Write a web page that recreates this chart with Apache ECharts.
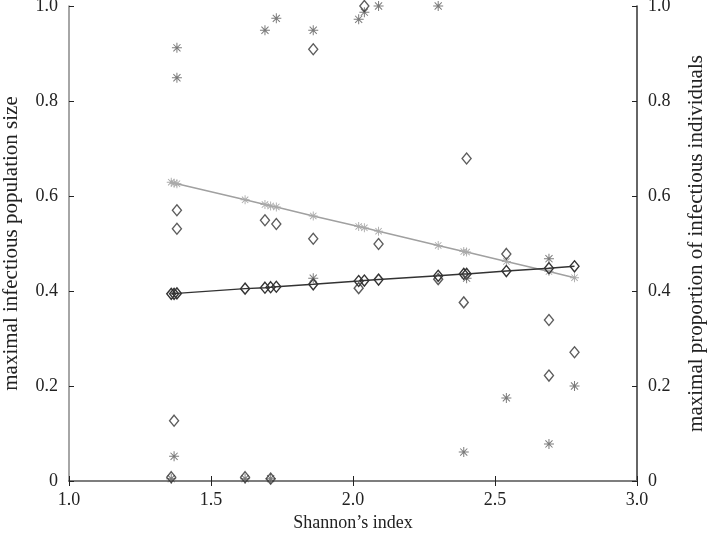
<!DOCTYPE html>
<html>
<head>
<meta charset="utf-8">
<script src="https://cdn.jsdelivr.net/npm/echarts@6/dist/echarts.min.js"></script>
<style>
  html, body { margin: 0; padding: 0; background: #fff; }
  #main { width: 708px; height: 539px; }
</style>
</head>
<body>
<div id="main"></div>
<script>
// raw data, one entry per community
const shannon = [1.36, 1.37, 1.38, 1.38, 1.62, 1.69, 1.71, 1.73, 1.86, 1.86, 2.02, 2.04, 2.09, 2.30, 2.39, 2.40, 2.54, 2.69, 2.69, 2.78]
const popSize = [0.008, 0.127, 0.570, 0.531, 0.008, 0.549, 0.005, 0.541, 0.510, 0.909, 0.406, 1.0, 0.499, 0.425, 0.376, 0.679, 0.478, 0.339, 0.222, 0.271]
const propInf = [0.005, 0.052, 0.912, 0.849, 0.005, 0.949, 0.005, 0.974, 0.949, 0.427, 0.972, 0.987, 1.0, 1.0, 0.061, 0.427, 0.175, 0.468, 0.078, 0.200]

// fitted values
const fitX = [1.36, 1.37, 1.38, 1.62, 1.69, 1.71, 1.73, 1.86, 2.02, 2.04, 2.09, 2.30, 2.39, 2.40, 2.54, 2.69, 2.78]
const fitPop = [0.394, 0.394, 0.395, 0.405, 0.407, 0.408, 0.409, 0.414, 0.421, 0.422, 0.424, 0.432, 0.436, 0.436, 0.442, 0.448, 0.452]
const fitProp = [0.629, 0.627, 0.626, 0.592, 0.582, 0.579, 0.577, 0.558, 0.536, 0.533, 0.526, 0.496, 0.483, 0.482, 0.462, 0.441, 0.428]

const xTicks = ['1.0', '1.5', '2.0', '2.5', '3.0']

// eight-spoke asterisk marker
const star = 'path://M-1,-10 L1,-10 L1,10 L-1,10 Z M-10,-1 L10,-1 L10,1 L-10,1 Z ' +
  'M-7.8,-6.4 L-6.4,-7.8 L7.8,6.4 L6.4,7.8 Z M6.4,-7.8 L7.8,-6.4 L-6.4,7.8 L-7.8,6.4 Z'

const font = 'Liberation Serif'
const zip = (xs, ys) => xs.map((x, i) => [x, ys[i]])

const chart = echarts.init(document.getElementById('main'))

const yLabel = v => (v === 0 ? '0' : v.toFixed(1))
const labelStyle = { fontFamily: font, fontSize: 18, color: '#222' }

const option = {
  animation: false,
  grid: { left: 69, right: 71, top: 6, bottom: 58, containLabel: false, outerBoundsMode: 'none' },
  xAxis: [
    {
      type: 'value', min: 1, max: 3, interval: 0.5,
      name: 'Shannon\u2019s index', nameLocation: 'middle', nameGap: 33,
      nameTextStyle: labelStyle,
      axisLine: { lineStyle: { color: '#333', width: 1.5 } },
      axisTick: { inside: true, length: 5, lineStyle: { color: '#222' } },
      axisLabel: Object.assign({ margin: 10, formatter: v => xTicks[Math.round((v - 1) * 2)] }, labelStyle),
      splitLine: { show: false }
    },
    {
      type: 'value', min: 1, max: 3, interval: 0.5, position: 'top',
      axisLine: { show: true, lineStyle: { color: '#888', width: 1.5 } },
      axisTick: { inside: true, length: 5, lineStyle: { color: '#222' } },
      axisLabel: { show: false },
      splitLine: { show: false }
    }
  ],
  yAxis: [
    {
      type: 'value', min: 0, max: 1, interval: 0.2,
      name: 'maximal infectious population size', nameLocation: 'middle', nameGap: 47,
      nameTextStyle: { fontFamily: font, fontSize: 21, color: '#222' },
      axisLine: { show: true, lineStyle: { color: '#888', width: 1.5 } },
      axisTick: { show: true, inside: true, length: 5, lineStyle: { color: '#222' } },
      axisLabel: Object.assign({ margin: 11, formatter: yLabel }, labelStyle),
      splitLine: { show: false }
    },
    {
      type: 'value', min: 0, max: 1, interval: 0.2, position: 'right',
      name: 'maximal proportion of infectious individuals', nameLocation: 'middle', nameGap: 49,
      nameRotate: 90,
      nameTextStyle: { fontFamily: font, fontSize: 21, color: '#222' },
      axisLine: { show: true, lineStyle: { color: '#333', width: 1.5 } },
      axisTick: { show: true, inside: true, length: 5, lineStyle: { color: '#222' } },
      axisLabel: Object.assign({ margin: 11, formatter: yLabel }, labelStyle),
      splitLine: { show: false }
    }
  ],
  series: [
    {
      name: 'fit proportion', type: 'line', yAxisIndex: 1,
      data: zip(fitX, fitProp),
      symbol: star, symbolSize: 9,
      itemStyle: { color: '#aaa' },
      lineStyle: { color: '#a0a0a0', width: 1.5 },
      z: 2
    },
    {
      name: 'fit size', type: 'line',
      data: zip(fitX, fitPop),
      symbol: 'diamond', symbolSize: [9, 11],
      itemStyle: { color: 'rgba(0,0,0,0)', borderColor: '#333', borderWidth: 1.4 },
      lineStyle: { color: '#333', width: 1.5 },
      z: 3
    },
    {
      name: 'proportion', type: 'scatter', yAxisIndex: 1, clip: false,
      data: zip(shannon, propInf),
      symbol: star, symbolSize: 10,
      itemStyle: { color: '#5a5a5a' },
      z: 4
    },
    {
      name: 'size', type: 'scatter', clip: false,
      data: zip(shannon, popSize),
      symbol: 'diamond', symbolSize: [9, 11],
      itemStyle: { color: 'rgba(0,0,0,0)', borderColor: '#333', borderWidth: 1.4 },
      z: 5
    }
  ]
}

chart.setOption(option)
</script>
</body>
</html>
